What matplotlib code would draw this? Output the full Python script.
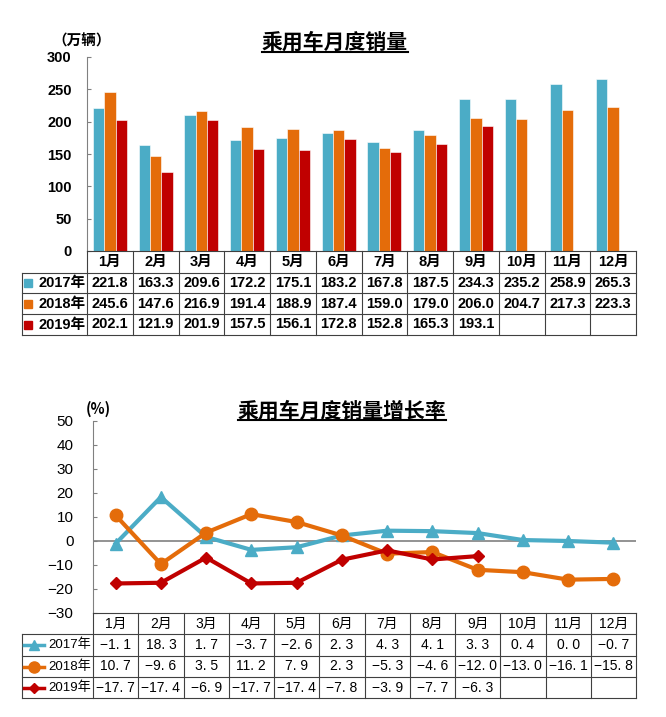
import matplotlib
matplotlib.use('Agg')
import matplotlib.pyplot as plt
import numpy as np
from matplotlib.transforms import blended_transform_factory
from matplotlib.lines import Line2D

# data
months = ['1月', '2月', '3月', '4月', '5月', '6月', '7月', '8月', '9月', '10月', '11月', '12月']
sales_2017 = [221.8, 163.3, 209.6, 172.2, 175.1, 183.2, 167.8, 187.5, 234.3, 235.2, 258.9, 265.3]
sales_2018 = [245.6, 147.6, 216.9, 191.4, 188.9, 187.4, 159.0, 179.0, 206.0, 204.7, 217.3, 223.3]
sales_2019 = [202.1, 121.9, 201.9, 157.5, 156.1, 172.8, 152.8, 165.3, 193.1]
growth_2017 = [-1.1, 18.3, 1.7, -3.7, -2.6, 2.3, 4.3, 4.1, 3.3, 0.4, 0.0, -0.7]
growth_2018 = [10.7, -9.6, 3.5, 11.2, 7.9, 2.3, -5.3, -4.6, -12.0, -13.0, -16.1, -15.8]
growth_2019 = [-17.7, -17.4, -6.9, -17.7, -17.4, -7.8, -3.9, -7.7, -6.3]
years = ['2017年', '2018年', '2019年']

TEAL = '#4BACC6'
ORANGE = '#E46C0A'
RED = '#C00000'
GRID = '#404040'

CJK = 'Noto Sans CJK SC'
BOLD_FONT = ['Liberation Sans', CJK]
REG_FONT = ['Liberation Sans', CJK]

W, H = 666, 717
fig = plt.figure(figsize=(W / 100, H / 100), dpi=100)


def fy(px):
    return 1 - px / H


def style_axis(ax, font, weight, size, pad):
    for s in ['top', 'right', 'bottom']:
        ax.spines[s].set_visible(False)
    ax.spines['left'].set_color('#808080')
    ax.set_xticks([])
    ax.tick_params(axis='y', direction='in', length=3, color='#808080', pad=pad)
    for lab in ax.get_yticklabels():
        lab.set_fontfamily(font)
        lab.set_fontweight(weight)
        lab.set_fontsize(size)


def draw_table(ax, rows_px, series, fmt, font, weight, size, label_size, legend_fn):
    tr = blended_transform_factory(ax.transData, fig.transFigure)
    pos = ax.get_position()
    unit = pos.width * W / 12
    xl = -0.5 + (22 - pos.x0 * W) / unit
    kw = dict(transform=tr, color=GRID, lw=0.8, clip_on=False)
    fig.add_artist(Line2D([-0.5, 11.5], [fy(rows_px[0])] * 2, **kw))
    for r in rows_px[1:]:
        fig.add_artist(Line2D([xl, 11.5], [fy(r)] * 2, **kw))
    for i in range(13):
        fig.add_artist(Line2D([i - 0.5] * 2, [fy(rows_px[0]), fy(rows_px[-1])], **kw))
    fig.add_artist(Line2D([xl] * 2, [fy(rows_px[1]), fy(rows_px[-1])], **kw))
    ymid = [(rows_px[k] + rows_px[k + 1]) / 2 for k in range(4)]
    for i, m in enumerate(months):
        fig.text(i, fy(ymid[0]), m, transform=tr, ha='center', va='center',
                 family=font, weight=weight, fontsize=size)
    for k, vals in enumerate(series):
        legend_fn(k, fy(ymid[k + 1]))
        fig.text(-0.5 - (1.5 / unit), fy(ymid[k + 1]), years[k], transform=tr,
                 ha='right', va='center', family=font, weight=weight, fontsize=label_size)
        for i, v in enumerate(vals):
            fig.text(i, fy(ymid[k + 1]), fmt(v), transform=tr, ha='center', va='center',
                     family=font, weight=weight, fontsize=size)


def underlined_title(text, xc, yc, yline):
    t = fig.text(xc / W, fy(yc), text, ha='center', va='center', family=CJK,
                 weight='bold', fontsize=15)
    fig.canvas.draw()
    bb = t.get_window_extent()
    fig.add_artist(Line2D([bb.x0 / W, bb.x1 / W], [fy(yline)] * 2, color='black', lw=1.5))


# ---------- top: monthly sales bars ----------
ax1 = fig.add_axes([87 / W, fy(251), 549 / W, 194 / H])
x = np.arange(12)
bw = 0.247
ax1.bar(x[:len(sales_2017)] - bw, sales_2017, bw, color=TEAL, edgecolor='white', lw=0.4)
ax1.bar(x[:len(sales_2018)], sales_2018, bw, color=ORANGE, edgecolor='white', lw=0.4)
ax1.bar(x[:len(sales_2019)] + bw, sales_2019, bw, color=RED, edgecolor='white', lw=0.4)
ax1.set_xlim(-0.5, 11.5)
ax1.set_ylim(0, 300)
ax1.set_yticks(range(0, 301, 50))
style_axis(ax1, BOLD_FONT, 'bold', 10.5, 11)
fig.text(82 / W, fy(41), '（万辆）', ha='center', va='center', family=CJK,
         weight='bold', fontsize=10.5)
underlined_title('乘用车月度销量', 335, 42, 52)

bar_colors = [TEAL, ORANGE, RED]


def square_legend(k, yy):
    fig.add_artist(Line2D([28 / W], [yy], marker='s', markersize=5.5, color=bar_colors[k],
                          linestyle='none'))


draw_table(ax1, [251, 273, 293, 314, 335],
           [sales_2017, sales_2018, sales_2019],
           lambda v: f'{v:.1f}', BOLD_FONT, 'bold', 10.5, 10.5, square_legend)

# ---------- bottom: growth rate lines ----------
ax2 = fig.add_axes([93 / W, fy(613), 543 / W, 192 / H])
ax2.axhline(0, color='#808080', lw=1.2, zorder=1)
ax2.plot(x[:len(growth_2017)], growth_2017, color=TEAL, lw=3, marker='^', markersize=8, zorder=3)
ax2.plot(x[:len(growth_2018)], growth_2018, color=ORANGE, lw=3, marker='o', markersize=9, zorder=3)
ax2.plot(x[:len(growth_2019)], growth_2019, color=RED, lw=3, marker='D', markersize=6, zorder=4)
ax2.set_xlim(-0.5, 11.5)
ax2.set_ylim(-30, 50)
ax2.set_yticks(range(-30, 51, 10))
ax2.set_yticklabels([str(v).replace('-', '−') for v in range(-30, 51, 10)])
style_axis(ax2, REG_FONT, 'normal', 11, 14)
fig.text(98 / W, fy(409), '(%)', ha='center', va='center', family=CJK,
         weight='bold', fontsize=10.5)
underlined_title('乘用车月度销量增长率', 342, 411, 420)

line_styles = [(TEAL, '^', 7), (ORANGE, 'o', 8), (RED, 'D', 5)]


def line_legend(k, yy):
    c, m, ms = line_styles[k]
    fig.add_artist(Line2D([24 / W, 44 / W], [yy, yy], color=c, lw=2.5))
    fig.add_artist(Line2D([34 / W], [yy], marker=m, markersize=ms, color=c, linestyle='none'))


draw_table(ax2, [613, 634, 656, 677, 698],
           [growth_2017, growth_2018, growth_2019],
           lambda v: f'{v:.1f}'.replace('-', '−').replace('.', '. '),
           REG_FONT, 'normal', 10, 9.5, line_legend)

fig.savefig('out.png', dpi=100)
